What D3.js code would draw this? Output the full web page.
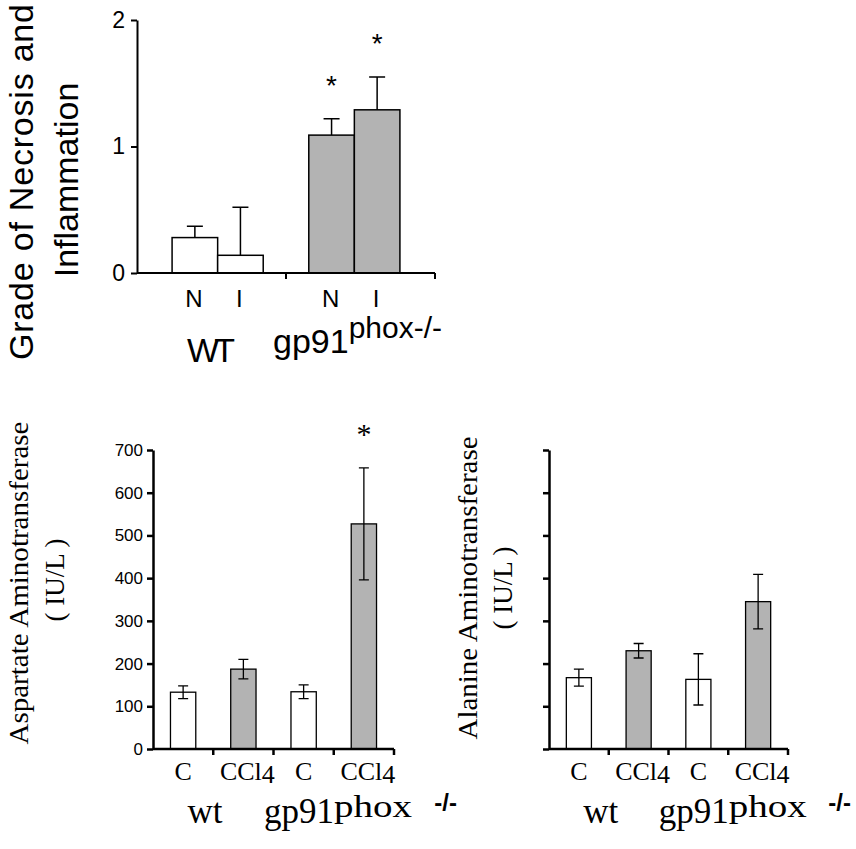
<!DOCTYPE html>
<html>
<head>
<meta charset="utf-8">
<script src="https://cdn.jsdelivr.net/npm/d3@7"></script>
<style>
    body { margin: 0; background: #fff; }
    svg { display: block; }
</style>
</head>
<body>
<svg id="Figure"></svg>
<script>
    // top panel: necrosis / inflammation grade
    let gradeBars = ["WT N", "WT I", "gp91 N", "gp91 I"]
    let gradeConditions = ["N", "I", "N", "I"]
    let gradeMeans = [0.28, 0.14, 1.09, 1.29]
    let gradeErrors = [0.09, 0.38, 0.13, 0.26]
    let gradeStars = [false, false, true, true]
    let gradeTicks = [0, 1, 2]

    // bottom panels: serum enzymes
    let enzymeBars = ["wt C", "wt CCl4", "gp91 C", "gp91 CCl4"]
    let enzymeTreatments = ["C", "CCl", "C", "CCl"]
    let astMeans = [133, 187, 134, 527]
    let astErrors = [15, 23, 16, 131]
    let astStars = [false, false, false, true]
    let altMeans = [167, 230, 163, 345]
    let altErrors = [20, 17, 60, 64]
    let altStars = [false, false, false, false]
    let enzymeTicks = [0, 100, 200, 300, 400, 500, 600, 700]

    let GRAY = "#b3b3b3"
    let ARIAL = "Liberation Sans, Arial, sans-serif"
    let TIMES = "Liberation Serif, Times New Roman, serif"

    let svg = d3.select("#Figure").attr("width", 856).attr("height", 849)
    svg.append("rect").attr("width", 856).attr("height", 849).attr("fill", "#fff")

    function drawGradeChart() {
        let g = svg.append("g")
        // a blank slot sits between the two genotypes
        let x = d3.scaleBand()
            .domain([gradeBars[0], gradeBars[1], "split", gradeBars[2], gradeBars[3]])
            .range([137, 435])
            .paddingInner(0)
            .paddingOuter(0.77)
        let y = d3.scaleLinear().domain([0, 2]).range([273, 20])
        let bw = x.bandwidth()

        let bars = gradeBars.map((b, i) => ({
            key: b, mean: gradeMeans[i], err: gradeErrors[i],
            star: gradeStars[i], label: gradeConditions[i], fill: i < 2 ? "#fff" : GRAY
        }))

        // error bars (upper only) under the boxes
        g.selectAll(".err").data(bars).enter().append("path")
            .attr("d", d => {
                let cx = x(d.key) + bw / 2
                return `M${cx},${y(d.mean)}V${y(d.mean + d.err)}M${cx - 8},${y(d.mean + d.err)}H${cx + 8}`
            })
            .attr("stroke", "#000").attr("stroke-width", 1.5).attr("fill", "none")

        g.selectAll(".bar").data(bars).enter().append("rect")
            .attr("x", d => x(d.key))
            .attr("y", d => y(d.mean))
            .attr("width", bw)
            .attr("height", d => y(0) - y(d.mean))
            .attr("fill", d => d.fill)
            .attr("stroke", "#000").attr("stroke-width", 1.5)

        g.selectAll(".star").data(bars.filter(d => d.star)).enter().append("text")
            .attr("x", d => x(d.key) + bw / 2)
            .attr("y", d => y(d.mean + d.err) - 24)
            .attr("text-anchor", "middle")
            .attr("font-family", ARIAL).attr("font-size", 28)
            .text("*")

        let axisY = d3.axisLeft(y).tickValues(gradeTicks).tickFormat(d3.format("d"))
            .tickSize(6).tickSizeOuter(0).tickPadding(6)
        let ay = g.append("g").attr("transform", `translate(137,0)`).call(axisY)
        ay.selectAll("text").attr("font-family", ARIAL).attr("font-size", 23).attr("fill", "#000")
        ay.selectAll("line, path").attr("stroke", "#000").attr("stroke-width", 2)

        // x axis line with ticks at the group split and at the end
        g.append("line").attr("x1", 137).attr("x2", 435).attr("y1", y(0)).attr("y2", y(0))
            .attr("stroke", "#000").attr("stroke-width", 2)
        g.selectAll(".xt").data([x("split") + bw / 2, 435]).enter().append("line")
            .attr("x1", d => d).attr("x2", d => d).attr("y1", y(0)).attr("y2", y(0) + 6)
            .attr("stroke", "#000").attr("stroke-width", 2)

        g.selectAll(".cond").data(bars).enter().append("text")
            .attr("x", d => x(d.key) + bw / 2 - 1)
            .attr("y", 307)
            .attr("text-anchor", "middle")
            .attr("font-family", ARIAL).attr("font-size", 24)
            .text(d => d.label)

        g.append("text").attr("x", 187).attr("y", 362)
            .attr("font-family", ARIAL).attr("font-size", 34).attr("textLength", 48)
            .text("WT")
        let gp = g.append("text").attr("x", 273).attr("y", 353)
            .attr("font-family", ARIAL).attr("font-size", 34)
        gp.append("tspan").text("gp91")
        gp.append("tspan").attr("dy", -15).attr("font-size", 30).text("phox-/-")

        g.append("text")
            .attr("transform", "translate(33,182) rotate(-90)")
            .attr("text-anchor", "middle")
            .attr("font-family", ARIAL).attr("font-size", 34)
            .attr("textLength", 356).attr("lengthAdjust", "spacing")
            .text("Grade of Necrosis and")
        g.append("text")
            .attr("transform", "translate(78,180) rotate(-90)")
            .attr("text-anchor", "middle")
            .attr("font-family", ARIAL).attr("font-size", 34)
            .text("Inflammation")
    }

    function drawEnzymeChart(config) {
        let {left, right, means, errors, stars, showTickLabels, title, titleX, titleY, titleLen, unitX, unitY, groupEnd} = config
        let g = svg.append("g")
        let x = d3.scaleBand().domain(enzymeBars).range([left, right])
            .paddingInner(0.58).paddingOuter(0.29)
        let y = d3.scaleLinear().domain([0, 700]).range([749, 450])
        let bw = x.bandwidth()

        let bars = enzymeBars.map((b, i) => ({
            key: b, mean: means[i], err: errors[i], star: stars[i],
            fill: i % 2 == 0 ? "#fff" : GRAY
        }))

        g.selectAll(".bar").data(bars).enter().append("rect")
            .attr("x", d => x(d.key))
            .attr("y", d => y(d.mean))
            .attr("width", bw)
            .attr("height", d => y(0) - y(d.mean))
            .attr("fill", d => d.fill)
            .attr("stroke", "#000").attr("stroke-width", 1.3)

        g.selectAll(".err").data(bars).enter().append("path")
            .attr("d", d => {
                let cx = x(d.key) + bw / 2
                let lo = y(d.mean - d.err), hi = y(d.mean + d.err)
                return `M${cx},${lo}V${hi}M${cx - 5},${hi}H${cx + 5}M${cx - 5},${lo}H${cx + 5}`
            })
            .attr("stroke", "#000").attr("stroke-width", 1.3).attr("fill", "none")

        g.selectAll(".star").data(bars.filter(d => d.star)).enter().append("text")
            .attr("x", d => x(d.key) + bw / 2)
            .attr("y", d => y(d.mean + d.err) - 24)
            .attr("text-anchor", "middle")
            .attr("font-family", TIMES).attr("font-size", 30)
            .text("*")

        let axisY = d3.axisLeft(y).tickValues(enzymeTicks).tickSize(6).tickSizeOuter(0).tickPadding(4)
        if (!showTickLabels) axisY.tickFormat("")
        let ay = g.append("g").attr("transform", `translate(${left},0)`).call(axisY)
        ay.selectAll("text").attr("font-family", ARIAL).attr("font-size", 17).attr("fill", "#000")
        ay.selectAll("line, path").attr("stroke", "#000").attr("stroke-width", 2.5)

        // x axis: ticks at the category boundaries
        let gap = x.step() * x.paddingInner() / 2
        let bounds = enzymeBars.map(d => x(d) - gap).concat([right])
        g.append("line").attr("x1", left).attr("x2", right).attr("y1", y(0)).attr("y2", y(0))
            .attr("stroke", "#000").attr("stroke-width", 2.5)
        g.selectAll(".xt").data(bounds.slice(1)).enter().append("line")
            .attr("x1", d => d).attr("x2", d => d).attr("y1", y(0)).attr("y2", y(0) + 6)
            .attr("stroke", "#000").attr("stroke-width", 2.5)

        let labels = g.selectAll(".treat").data(bars).enter().append("text")
            .attr("x", d => x(d.key) + bw / 2 + (d.key.endsWith("CCl4") ? 4 : 0))
            .attr("y", 780)
            .attr("text-anchor", "middle")
            .attr("font-family", TIMES).attr("font-size", 26)
        labels.append("tspan").text((d, i) => enzymeTreatments[i])
        labels.filter(d => d.key.endsWith("CCl4")).append("tspan").attr("dy", 3).text("4")

        g.append("text").attr("x", x(enzymeBars[0]) + 17).attr("y", 823)
            .attr("font-family", TIMES).attr("font-size", 35)
            .text("wt")
        let gpX = x(enzymeBars[2]) - 27
        g.append("text").attr("x", gpX).attr("y", 823)
            .attr("font-family", TIMES).attr("font-size", 35)
            .attr("textLength", 70)
            .text("gp91")
        g.append("text").attr("x", gpX + 70).attr("y", 817)
            .attr("font-family", TIMES).attr("font-size", 32)
            .attr("textLength", 78).attr("lengthAdjust", "spacingAndGlyphs")
            .text("phox")
        // the -/- mark is drawn in a heavier sans face, ending at groupEnd
        g.append("text").attr("x", groupEnd).attr("y", 811)
            .attr("text-anchor", "end")
            .attr("font-family", ARIAL).attr("font-weight", "bold").attr("font-size", 24)
            .text("-/-")

        g.append("text")
            .attr("transform", `translate(${titleX},${titleY}) rotate(-90)`)
            .attr("text-anchor", "middle")
            .attr("fill", "#000")
            .attr("font-family", TIMES).attr("font-size", 27)
            .attr("textLength", titleLen).attr("lengthAdjust", "spacingAndGlyphs")
            .text(title)
        g.append("text")
            .attr("transform", `translate(${unitX},${unitY}) rotate(-90)`)
            .attr("text-anchor", "middle")
            .attr("fill", "#000")
            .attr("font-family", TIMES).attr("font-size", 27)
            .text("( IU/L )")
    }

    drawGradeChart()
    drawEnzymeChart({
        left: 153, right: 394, means: astMeans, errors: astErrors, stars: astStars,
        showTickLabels: true, title: "Aspartate Aminotransferase", titleX: 28, titleY: 583,
        titleLen: 323, unitX: 64, unitY: 580, groupEnd: 457
    })
    drawEnzymeChart({
        left: 549, right: 788, means: altMeans, errors: altErrors, stars: altStars,
        showTickLabels: false, title: "Alanine Aminotransferase", titleX: 477, titleY: 588,
        titleLen: 303, unitX: 512, unitY: 588, groupEnd: 851
    })
</script>
</body>
</html>
